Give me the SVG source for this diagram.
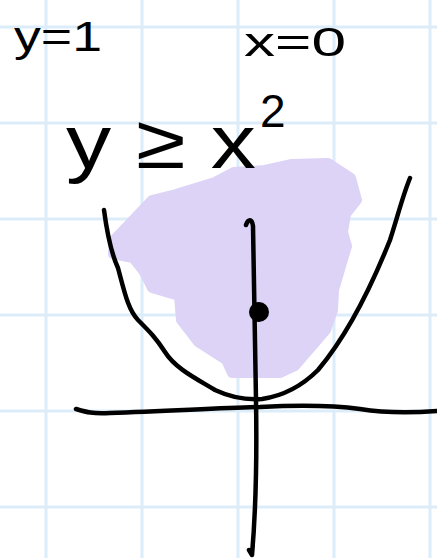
<svg xmlns="http://www.w3.org/2000/svg" width="437" height="558" viewBox="0 0 437 558">
<style>
.grid{stroke:#dcedf9;stroke-width:3;fill:none}
.ink{stroke:#000;stroke-width:4.5;fill:none;stroke-linecap:round;stroke-linejoin:round}
.hand{font-family:"Liberation Sans","DejaVu Sans",sans-serif;fill:#000}
</style>
<rect width="437" height="558" fill="#fff"/>
<g id="grid" class="grid">
<path d="M46 0V558M142 0V558M238 0V558M334 0V558M430 0V558"/>
<path d="M0 27H437M0 123H437M0 219H437M0 315H437M0 411H437M0 507H437"/>
</g>
<g id="region">
<path d="M114 240 L152 200 L176 194 L215 182 L234 172 L265 170 L292 164 L328 163 L351 178 L357 200 L346 214 L343 232 L347 246 L341 266 L334 290 L333 310 L326 330 L314 344 L295 366 L280 373 L232 373 L226 360 L198 342 L181 320 L179 296 L152 288 L144 272 L133 258 L113 254 Z" fill="#dcd3f7" stroke="#dcd3f7" stroke-width="10" stroke-linejoin="round"/>
</g>
<g id="connectors">
<path id="parabola" class="ink" d="M104 210 C108 240 112 255 118 268 C124 290 128 310 138 320 C150 332 156 338 165 352 C175 368 195 378 215 390 C232 398 248 400 262 399 C282 396 300 388 318 370 C345 338 370 290 390 240 C398 215 403 195 410 178"/>
<path id="yaxis" class="ink" d="M246 225 C248 219 252 218 253 226 C254 280 255 340 256 400 C257 460 255 520 252 555 L249 550"/>
<path id="xaxis" class="ink" d="M76 409 C86 412 92 414 110 413 C170 411 220 408 260 407 C300 405 330 405 360 409 C385 413 410 413 437 411"/>
</g>
<g id="point"><circle cx="259" cy="312" r="10" fill="#000"/></g>
<g id="label-y1"><text class="hand" x="14" y="51" font-size="42" textLength="88" lengthAdjust="spacingAndGlyphs">y=1</text></g>
<g id="label-x0"><text class="hand" x="244" y="56" font-size="40" textLength="102" lengthAdjust="spacingAndGlyphs">x=0</text></g>
<g id="label-ineq"><text class="hand" x="66" y="168" font-size="76" textLength="190" lengthAdjust="spacingAndGlyphs">y ≥ x</text><text class="hand" x="260" y="127" font-size="46">2</text></g>
</svg>
